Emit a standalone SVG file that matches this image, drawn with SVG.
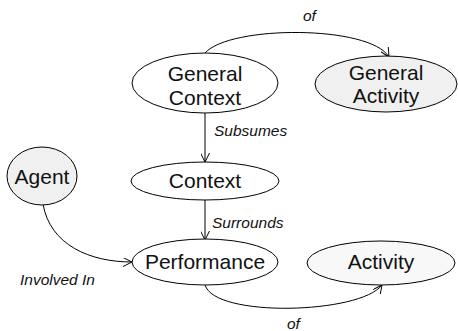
<svg xmlns="http://www.w3.org/2000/svg" width="458" height="331" viewBox="0 0 458 331">
<style>
.node{stroke:#000;stroke-width:1}
.w{fill:#fff}
.g{fill:#f0f0f0}
.l{fill:#f8f8f8}
.t{font-family:"Liberation Sans",Arial,sans-serif;font-size:21px;fill:#111;text-anchor:middle}
.e{fill:none;stroke:#000;stroke-width:1}
.lab{font-family:"Liberation Sans",Arial,sans-serif;font-size:15.5px;font-style:italic;fill:#111}
</style>
<defs>
<marker id="arr" viewBox="0 0 10 10" refX="10" refY="5" markerWidth="9" markerHeight="9" markerUnits="userSpaceOnUse" orient="auto">
<path d="M0,0 L10,5 L0,10" fill="none" stroke="#000" stroke-width="1.1"/>
</marker>
</defs>
<g id="connectors">
<path class="e" d="M205,53 C230,25 370,25 389,57" marker-end="url(#arr)"/>
<path class="e" d="M205,113 L205,162" marker-end="url(#arr)"/>
<path class="e" d="M205,200 L205,240" marker-end="url(#arr)"/>
<path class="e" d="M43,204 C50,245 90,262 132,262" marker-end="url(#arr)"/>
<path class="e" d="M205,285 C215,318 360,314 382,285" marker-end="url(#arr)"/>
<text class="lab" x="303" y="21">of</text>
<text class="lab" x="214" y="136">Subsumes</text>
<text class="lab" x="212" y="228">Surrounds</text>
<text class="lab" x="20" y="285">Involved In</text>
<text class="lab" x="287" y="329">of</text>
</g>
<g id="general-context">
<ellipse class="node w" cx="205" cy="83" rx="73" ry="30"/>
<text class="t" x="205" y="81">General</text>
<text class="t" x="205" y="105">Context</text>
</g>
<g id="general-activity">
<ellipse class="node g" cx="386" cy="84" rx="71" ry="28"/>
<text class="t" x="386" y="80">General</text>
<text class="t" x="386" y="103">Activity</text>
</g>
<g id="context">
<ellipse class="node w" cx="205" cy="181" rx="74" ry="19"/>
<text class="t" x="205" y="188">Context</text>
</g>
<g id="agent">
<ellipse class="node g" cx="42" cy="176" rx="35" ry="29"/>
<text class="t" x="42" y="184">Agent</text>
</g>
<g id="performance">
<ellipse class="node w" cx="205" cy="262" rx="73" ry="23"/>
<text class="t" x="205" y="269">Performance</text>
</g>
<g id="activity">
<ellipse class="node l" cx="381" cy="263" rx="74" ry="22"/>
<text class="t" x="381" y="269">Activity</text>
</g>
</svg>
